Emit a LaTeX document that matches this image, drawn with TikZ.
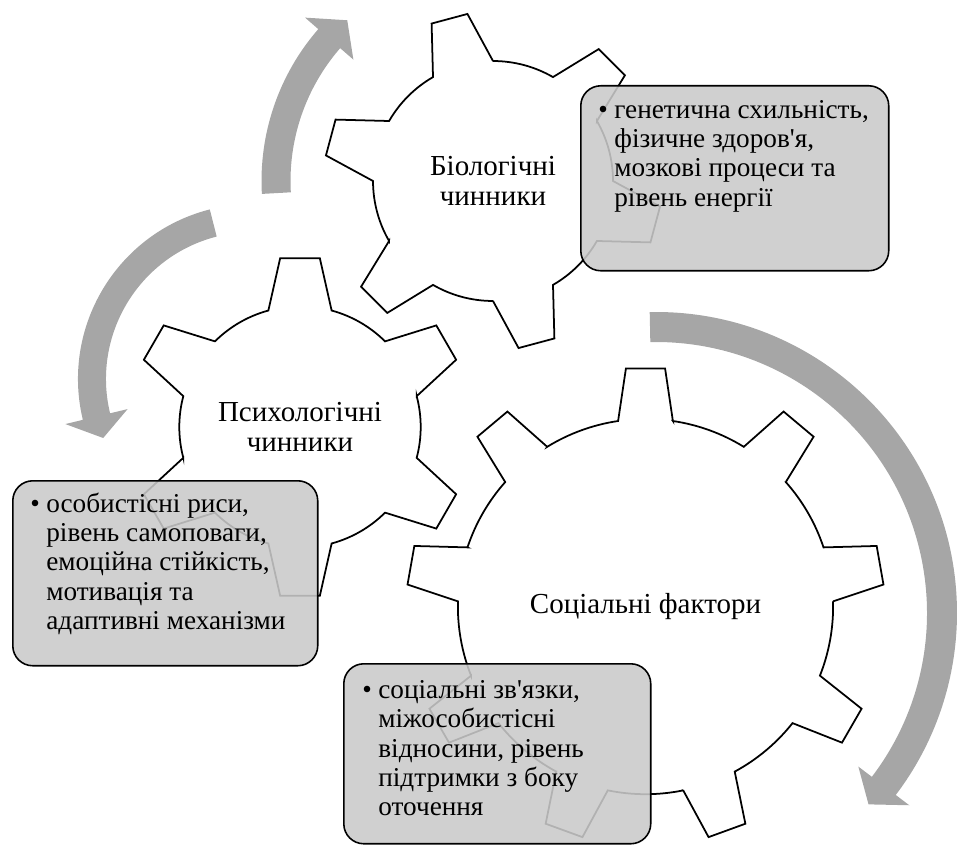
\documentclass[tikz,border=0pt]{standalone}
\usepackage{fontspec}
\setmainfont{Liberation Serif}[Ligatures=TeXOff]
\usetikzlibrary{positioning}

\definecolor{arrowgray}{RGB}{166,166,166}
\definecolor{boxgray}{RGB}{202,202,202}

\tikzset{
  gearline/.style={draw=black, line width=1pt, fill=white, line join=miter},
  arrowfill/.style={fill=arrowgray},
  infobox/.style={draw=black, line width=0.9pt, fill=boxgray, fill opacity=0.88, rounded corners=0.4cm, inner sep=0pt},
  boxtext/.style={inner sep=0pt, font=\fontsize{15.5}{16.7}\selectfont},
  gearlabel/.style={align=center, inner sep=0pt, font=\fontsize{16.5}{17}\selectfont}
}

% gear: first tooth, spacing, last index, root radius, tip half angle, foot half angle
\newcommand{\gearshape}[6]{%
  \draw[gearline] (#1-#6:#4)
    \foreach \k in {0,...,#3}{
      -- (#1+\k*#2-#6:#4) -- (#1+\k*#2-#5:1) -- (#1+\k*#2+#5:1) -- (#1+\k*#2+#6:#4)
      arc[start angle=#1+\k*#2+#6, end angle=#1+\k*#2+#2-#6, radius=#4]
    } -- cycle;}

% curved arrow: centre, radius, half width, tail angle, head angle, tip angle
\newcommand{\ringarrow}[6]{%
  \fill[arrowfill] ([shift={(#4:#2+#3)}]#1) arc[start angle=#4, end angle=#5, radius=#2+#3]
    -- ([shift={(#5:#2+32)}]#1) -- ([shift={(#6:#2)}]#1) -- ([shift={(#5:#2-32)}]#1)
    -- ([shift={(#5:#2-#3)}]#1) arc[start angle=#5, end angle=#4, radius=#2-#3] -- cycle;}

\newcommand{\itemlist}[1]{\begin{tabular}[t]{@{}p{0.32cm}@{}l@{}}\textbullet & #1\end{tabular}}

\begin{document}
\begin{tikzpicture}[x=0.02cm, y=0.02cm]
  \useasboundingbox (0,0) rectangle (960,846);

  % centres
  \coordinate (soc) at (645.5,239.4);
  \coordinate (bio) at (493,665);
  \coordinate (psy) at (300,419);
  \coordinate (socarc) at (656,233);
  \coordinate (psyarc) at (253,467);

  % Draw the gears
  \begin{scope}[shift={(soc)}, scale=239]
    \gearshape{90}{40}{8}{0.785}{4.7}{8.4}
  \end{scope}
  \begin{scope}[shift={(psy)}, scale=170]
    \gearshape{90}{60}{5}{0.71}{6.7}{15.2}
  \end{scope}
  \begin{scope}[shift={(bio)}, scale=169]
    \gearshape{45}{60}{5}{0.71}{6.3}{15}
  \end{scope}

  % gear labels
  \node[gearlabel] (biolabel) at (bio) {Біологічні\\чинники};
  \node[gearlabel] (psylabel) at (psy) {Психологічні\\чинники};
  \node[gearlabel] (soclabel) at (soc) {Соціальні фактори};

  % Draw the arrows
  \ringarrow{bio}{217}{14.5}{183.2}{139}{132.2}
  \ringarrow{psyarc}{161}{14}{104.3}{193.5}{201.5}
  \ringarrow{socarc}{286}{15}{91.2}{-37.2}{-42}

  % Draw the boxes
  \node[infobox, minimum width=6.16cm, minimum height=3.7cm, anchor=north west] (biobox) at (580,761) {};
  \node[infobox, minimum width=6.1cm, minimum height=3.7cm, anchor=north west] (psybox) at (12,366) {};
  \node[infobox, minimum width=6.14cm, minimum height=3.6cm, anchor=north west] (socbox) at (343,183) {};

  % box texts
  \node[boxtext, below right=0.245cm and 0.36cm of biobox.north west] (biotext)
    {\itemlist{генетична схильність,\\ & фізичне здоров'я,\\ & мозкові процеси та\\ & рівень енергії}};
  \node[boxtext, below right=0.225cm and 0.36cm of psybox.north west] (psytext)
    {\itemlist{особистісні риси,\\ & рівень самоповаги,\\ & емоційна стійкість,\\ & мотивація та\\ & адаптивні механізми}};
  \node[boxtext, below right=0.29cm and 0.38cm of socbox.north west] (soctext)
    {\itemlist{соціальні зв'язки,\\ & міжособистісні\\ & відносини, рівень\\ & підтримки з боку\\ & оточення}};
\end{tikzpicture}
\end{document}
